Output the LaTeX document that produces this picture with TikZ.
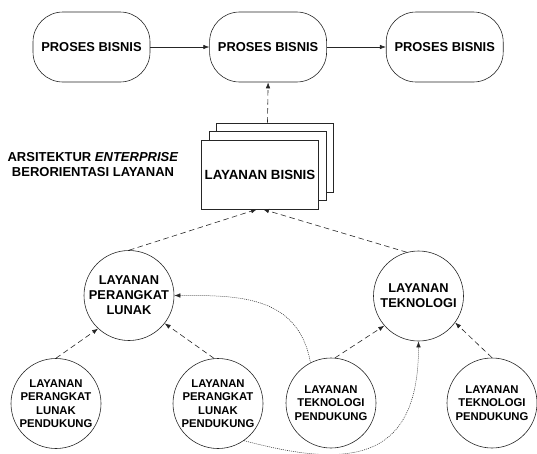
\documentclass[tikz,border=0pt]{standalone}
\usepackage{fontspec}
\setmainfont{Liberation Sans}
\usepackage{tikz}
\usetikzlibrary{arrows.meta,positioning,shadows}

\begin{document}
\begin{tikzpicture}[
			x=1pt,y=1pt,
			node distance=59pt,
			proses/.style={draw=black!85,line width=0.6pt,rounded corners=30pt,minimum width=117pt,minimum height=70pt,align=center,font=\fontsize{12.9}{15}\selectfont\bfseries},
			layanan/.style={draw=black!85,line width=0.6pt,fill=white,minimum width=116pt,minimum height=69pt,align=center,font=\fontsize{13.3}{15}\selectfont\bfseries},
			utama/.style={draw=black!85,line width=0.6pt,circle,minimum size=90pt,inner sep=0pt,align=center,font=\fontsize{12.8}{15}\selectfont\bfseries},
			dukung/.style={draw=black!85,line width=0.6pt,circle,minimum size=90pt,inner sep=0pt,align=center,font=\fontsize{11.3}{13.5}\selectfont\bfseries},
			arr/.style={-{Latex[length=6pt,width=4.5pt]},line width=0.6pt,black!85},
			darr/.style={arr,dash pattern=on 5.5pt off 3.5pt},
			tarr/.style={arr,line width=0.5pt,dash pattern=on 1pt off 1pt}
			]
			\useasboundingbox (0,0) rectangle (537,-453);
			\node[proses] (p1) at (91.5,-47) {PROSES BISNIS};
			\node[proses] (p2) [right=of p1] {PROSES BISNIS};
			\node[proses] (p3) [right=of p2] {PROSES BISNIS};
			\draw[arr] (p1)--(p2);
			\draw[arr] (p2)--(p3);
			% tumpukan layanan bisnis
			\node[layanan,double copy shadow={shadow xshift=7.5pt,shadow yshift=8.5pt,draw=black!85,fill=white,line width=0.6pt}] (lb) at (260,-174.5) {LAYANAN BISNIS};
			\node[align=center,font=\fontsize{13}{15}\selectfont\bfseries] (judul) at (93,-165) {ARSITEKTUR \textit{ENTERPRISE}\\BERORIENTASI LAYANAN};
			\draw[darr] ([xshift=7.5pt,yshift=17pt]lb.north)--(p2.south);
			% layanan utama
			\node[utama] (lpl) at (129,-295.5) {LAYANAN\\PERANGKAT\\LUNAK};
			\node[utama] (lt) at (418.5,-296) {LAYANAN\\TEKNOLOGI};
			\draw[darr] (lpl.north)--([xshift=-3pt]lb.south);
			\draw[darr] (lt.105)--([xshift=3pt]lb.south);
			% layanan pendukung
			\node[dukung] (lplp1) at (56,-403.5) {LAYANAN\\PERANGKAT\\LUNAK\\PENDUKUNG};
			\node[dukung] (lplp2) at (218,-403.5) {LAYANAN\\PERANGKAT\\LUNAK\\PENDUKUNG};
			\node[dukung] (ltp1) at (331,-403) {LAYANAN\\TEKNOLOGI\\PENDUKUNG};
			\node[dukung] (ltp2) at (492,-403) {LAYANAN\\TEKNOLOGI\\PENDUKUNG};
			\draw[darr] (lplp1.north)--(lpl.-133);
			\draw[darr] (lplp2.95)--(lpl.-38);
			\draw[darr] (ltp1.85)--(lt.-139);
			\draw[darr] (ltp2.north)--(lt.-36);
			\draw[tarr] (ltp1.117) .. controls +(100:70) and +(0:60) .. (lpl.east);
			\draw[tarr] (lplp2.-55) .. controls +(-15:110) and +(-90:120) .. (lt.-90);
		\end{tikzpicture}
\end{document}
